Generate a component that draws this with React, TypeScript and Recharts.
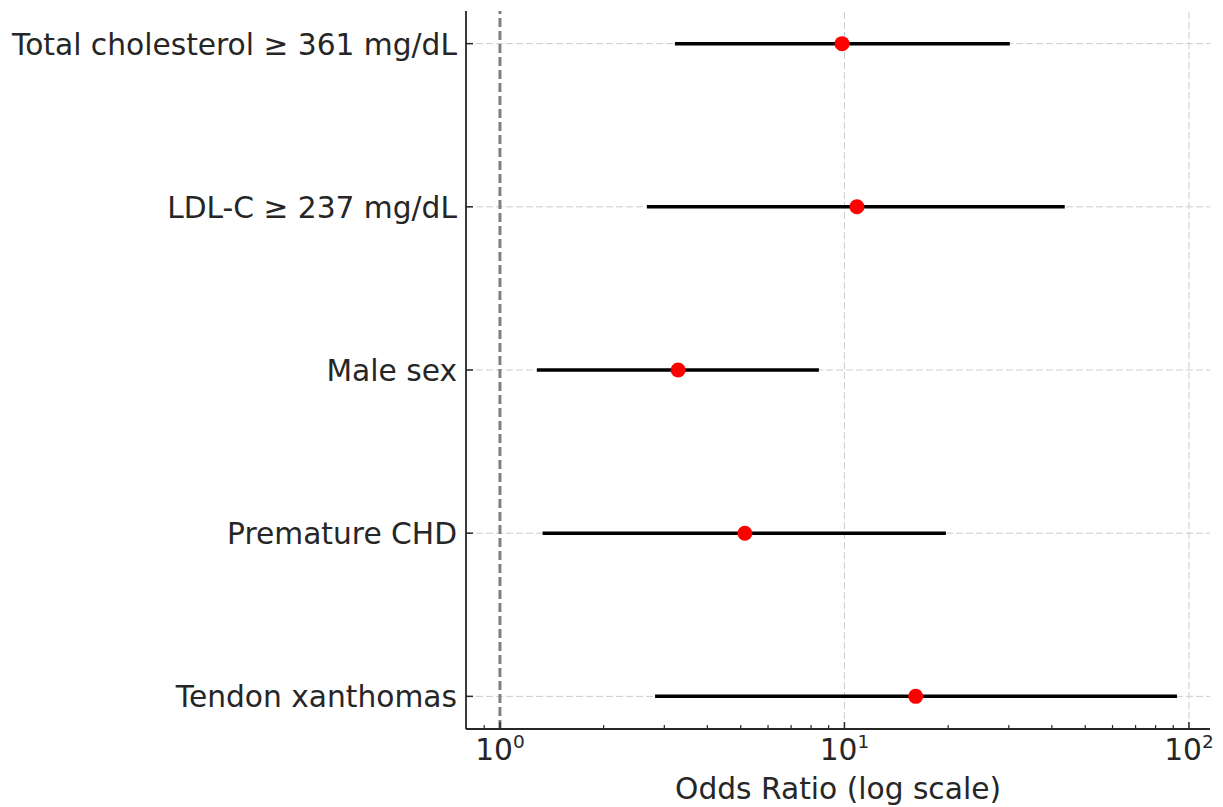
import {
  ScatterChart,
  Scatter,
  ErrorBar,
  XAxis,
  YAxis,
  ReferenceLine,
  Label,
} from 'recharts';

const labels = [
  'Total cholesterol ≥ 361 mg/dL',
  'LDL-C ≥ 237 mg/dL',
  'Male sex',
  'Premature CHD',
  'Tendon xanthomas',
];
const oddsRatio = [9.84, 10.87, 3.29, 5.14, 16.1];
const ciLow = [3.22, 2.67, 1.28, 1.33, 2.82];
const ciHigh = [30.2, 43.6, 8.43, 19.7, 92.3];

const majorTicks = [1, 10, 100];
const minorTicks = [0.9, 2, 3, 4, 5, 6, 7, 8, 9, 20, 30, 40, 50, 60, 70, 80, 90];
const rowTicks = [0, 1, 2, 3, 4];

const COLORS = {
  text: '#262626',
  spine: '#262626',
  grid: '#cccccc',
  ref: '#808080',
  ci: '#000000',
  point: '#ff0000',
};

const FONT = 'DejaVu Sans';
const FS = 29.7;

const rows = labels.map((label, i) => ({
  row: i,
  label,
  or: oddsRatio[i],
  err: [oddsRatio[i] - ciLow[i], ciHigh[i] - oddsRatio[i]],
}));

function XTick(props: any) {
  const { x, y, payload } = props;
  const v = payload.value as number;
  const exp = Math.round(Math.log10(v));
  const major = Math.abs(Math.pow(10, exp) - v) < 1e-9;
  if (!major) {
    return <line x1={x} x2={x} y1={y} y2={y - 4} stroke={COLORS.spine} strokeWidth={1.2} />;
  }
  return (
    <g>
      <line x1={x} x2={x} y1={y} y2={y - 7} stroke={COLORS.spine} strokeWidth={1.5} />
      <text x={x} y={y + 31} textAnchor="middle" fill={COLORS.text} fontFamily={FONT} fontSize={FS}>
        <tspan>10</tspan>
        <tspan dy={-12} fontSize={18.5}>{exp}</tspan>
      </text>
    </g>
  );
}

function YTick(props: any) {
  const { x, y, payload } = props;
  return (
    <g>
      <line x1={x} x2={x + 7} y1={y} y2={y} stroke={COLORS.spine} strokeWidth={1.5} />
      <text x={x - 9} y={y + 11} textAnchor="end" fill={COLORS.text} fontFamily={FONT} fontSize={FS}>
        {labels[payload.value]}
      </text>
    </g>
  );
}

const Dot = (props: any) => <circle cx={props.cx} cy={props.cy} r={7.5} fill={COLORS.point} />;

export default function App() {
  return (
    <div style={{ position: 'absolute', left: 0, top: 0, background: '#fff' }}>
      <ScatterChart
        width={1223}
        height={807}
        margin={{ top: 11, right: 13, bottom: 0, left: 0 }}
        style={{ fontFamily: FONT }}
      >
        <XAxis
          dataKey="or"
          type="number"
          scale="log"
          domain={[0.797, 115.1]}
          allowDataOverflow
          ticks={[...majorTicks, ...minorTicks].sort((a, b) => a - b)}
          interval={0}
          height={78}
          tickSize={0}
          tickMargin={0}
          tickLine={false}
          tick={<XTick />}
          axisLine={{ stroke: COLORS.spine, strokeWidth: 1.8 }}
        >
          <Label
            value="Odds Ratio (log scale)"
            position="insideBottom"
            offset={8}
            fill={COLORS.text}
            fontSize={FS}
            fontFamily={FONT}
          />
        </XAxis>
        <YAxis
          dataKey="row"
          type="number"
          domain={[-0.2, 4.2]}
          allowDataOverflow
          reversed
          ticks={rowTicks}
          interval={0}
          width={466}
          tickSize={0}
          tickMargin={0}
          tickLine={false}
          tick={<YTick />}
          axisLine={{ stroke: COLORS.spine, strokeWidth: 1.8 }}
        />
        {rowTicks.map((r) => (
          <ReferenceLine key={`h${r}`} y={r} stroke={COLORS.grid} strokeWidth={1} strokeDasharray="7 3" />
        ))}
        {majorTicks.slice(1).map((v) => (
          <ReferenceLine key={`v${v}`} x={v} stroke={COLORS.grid} strokeWidth={1} strokeDasharray="7 3" />
        ))}
        <ReferenceLine x={1} stroke={COLORS.ref} strokeWidth={3} strokeDasharray="9 4" />
        <Scatter data={rows} shape={<Dot />} isAnimationActive={false}>
          <ErrorBar
            dataKey="err"
            direction="x"
            width={0}
            stroke={COLORS.ci}
            strokeWidth={3.5}
            isAnimationActive={false}
          />
        </Scatter>
      </ScatterChart>
    </div>
  );
}
